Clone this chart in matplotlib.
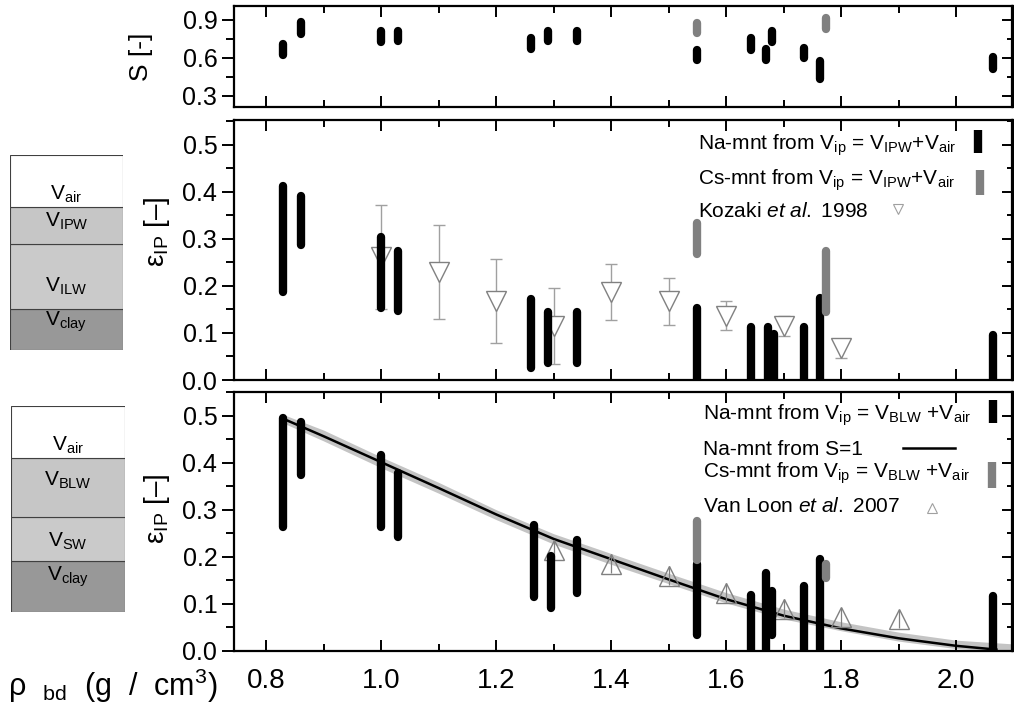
import matplotlib
matplotlib.use('Agg')
import matplotlib.pyplot as plt
from matplotlib.ticker import MultipleLocator

plt.rcParams['font.family'] = ['Liberation Sans', 'DejaVu Sans']
plt.rcParams['mathtext.fontset'] = 'custom'
plt.rcParams['mathtext.rm'] = 'Liberation Sans'
plt.rcParams['mathtext.it'] = 'Liberation Sans:italic'
plt.rcParams['mathtext.bf'] = 'Liberation Sans:bold'

# ---- saturation panel (S) ----
s_na_x = [0.83, 0.86, 1.00, 1.03, 1.26, 1.29, 1.34, 1.55, 1.643, 1.67, 1.68, 1.735, 1.763, 2.064]
s_na_lo = [0.62, 0.79, 0.725, 0.73, 0.67, 0.73, 0.73, 0.585, 0.66, 0.585, 0.725, 0.595, 0.43, 0.51]
s_na_hi = [0.71, 0.88, 0.81, 0.815, 0.76, 0.815, 0.815, 0.665, 0.76, 0.67, 0.81, 0.68, 0.575, 0.605]
s_cs_x = [1.55, 1.774]
s_cs_lo = [0.795, 0.825]
s_cs_hi = [0.875, 0.915]

# ---- interparticle porosity, IPW model ----
m_na_x = [0.83, 0.86, 1.00, 1.03, 1.26, 1.29, 1.34, 1.55, 1.643, 1.673, 1.684, 1.735, 1.763, 2.064]
m_na_lo = [0.188, 0.288, 0.153, 0.146, 0.026, 0.036, 0.036, 0.0, 0.0, 0.0, 0.0, 0.0, 0.0, 0.0]
m_na_hi = [0.412, 0.392, 0.304, 0.274, 0.173, 0.144, 0.144, 0.153, 0.112, 0.112, 0.097, 0.112, 0.175, 0.095]
m_cs_x = [1.55, 1.774]
m_cs_lo = [0.267, 0.145]
m_cs_hi = [0.334, 0.274]

kozaki_x = [1.0, 1.1, 1.2, 1.3, 1.4, 1.5, 1.6, 1.7, 1.8]
kozaki_y = [0.262, 0.23, 0.168, 0.115, 0.187, 0.167, 0.137, 0.115, 0.067]
kozaki_err = [0.11, 0.10, 0.09, 0.08, 0.06, 0.05, 0.03, 0.022, 0.021]

# ---- interparticle porosity, BLW model ----
b_na_x = [0.83, 0.86, 1.00, 1.03, 1.265, 1.295, 1.34, 1.55, 1.643, 1.67, 1.68, 1.735, 1.763, 2.064]
b_na_lo = [0.264, 0.374, 0.264, 0.243, 0.115, 0.091, 0.123, 0.035, 0.0, 0.0, 0.035, 0.0, 0.0, 0.0]
b_na_hi = [0.494, 0.487, 0.416, 0.378, 0.267, 0.202, 0.236, 0.185, 0.118, 0.166, 0.128, 0.137, 0.195, 0.116]
b_cs_x = [1.55, 1.774]
b_cs_lo = [0.194, 0.154]
b_cs_hi = [0.277, 0.185]

vanloon_x = [1.3, 1.4, 1.5, 1.6, 1.7, 1.8, 1.9]
vanloon_y = [0.215, 0.185, 0.16, 0.124, 0.09, 0.072, 0.068]
vanloon_err = [0.02, 0.02, 0.02, 0.02, 0.02, 0.02, 0.02]

s1_x = [0.83, 0.9, 1.0, 1.1, 1.2, 1.3, 1.4, 1.5, 1.6, 1.7, 1.8, 1.9, 2.0, 2.07]
s1_y = [0.493, 0.456, 0.401, 0.346, 0.290, 0.238, 0.195, 0.152, 0.110, 0.075, 0.048, 0.027, 0.011, 0.003]
band_x = [0.83, 0.9, 1.0, 1.1, 1.2, 1.3, 1.4, 1.5, 1.6, 1.7, 1.8, 1.9, 2.0, 2.1]
band_hi = [0.502, 0.469, 0.412, 0.358, 0.300, 0.249, 0.207, 0.165, 0.124, 0.089, 0.062, 0.040, 0.023, 0.015]
band_lo = [0.484, 0.446, 0.389, 0.335, 0.279, 0.227, 0.184, 0.143, 0.102, 0.068, 0.043, 0.021, 0.005, 0.0]

# ---- volume diagrams (relative layer heights, bottom -> top) ----
box1_labels = ['clay', 'ILW', 'IPW', 'air']
box1_vols = [41, 65, 37, 52]
box2_labels = ['clay', 'SW', 'BLW', 'air']
box2_vols = [51, 44, 59, 52]

BAR_LW = 6
GREY = '#808080'

fig = plt.figure(figsize=(10.14, 7.07), dpi=100)
L, W = 234 / 1014, 778.5 / 1014
ax_s = fig.add_axes([L, 1 - 107 / 707, W, 101 / 707])
ax_m = fig.add_axes([L, 1 - 380 / 707, W, 260 / 707])
ax_b = fig.add_axes([L, 1 - 651 / 707, W, 259 / 707])


def style_axis(ax, ymajor, yminor, xlabels):
    for sp in ax.spines.values():
        sp.set_linewidth(1.6)
    ax.set_xlim(0.744, 2.098)
    ax.xaxis.set_major_locator(MultipleLocator(0.2))
    ax.xaxis.set_minor_locator(MultipleLocator(0.1))
    ax.yaxis.set_major_locator(MultipleLocator(ymajor))
    ax.yaxis.set_minor_locator(MultipleLocator(yminor))
    ax.tick_params(axis='x', which='both', direction='in', top=True, bottom=True,
                   width=1.4, labelbottom=xlabels, labelsize=20, pad=12)
    ax.tick_params(axis='x', which='major', length=8)
    ax.tick_params(axis='x', which='minor', length=5)
    ax.tick_params(axis='y', which='both', direction='out', left=True, right=False,
                   width=1.4, labelsize=18, pad=3)
    ax.tick_params(axis='y', which='major', length=9)
    ax.tick_params(axis='y', which='minor', length=6)
    sec = ax.secondary_yaxis('right')
    sec.yaxis.set_major_locator(MultipleLocator(ymajor))
    sec.yaxis.set_minor_locator(MultipleLocator(yminor))
    sec.tick_params(which='both', direction='in', labelright=False, width=1.4)
    sec.tick_params(which='major', length=8)
    sec.tick_params(which='minor', length=4)
    sec.spines['right'].set_linewidth(1.6)


def draw_bars(ax, xs, lo, hi, color):
    for x, a, b in zip(xs, lo, hi):
        ax.plot([x, x], [a, b], color=color, lw=BAR_LW, solid_capstyle='round', zorder=4)


# top panel
draw_bars(ax_s, s_na_x, s_na_lo, s_na_hi, 'black')
draw_bars(ax_s, s_cs_x, s_cs_lo, s_cs_hi, GREY)
ax_s.set_ylim(0.21, 1.01)
style_axis(ax_s, 0.3, 0.15, False)
ax_s.set_ylabel('S [-]', fontsize=19)
ax_s.yaxis.set_label_coords(-0.104, 0.5)

# middle panel
ax_m.errorbar(kozaki_x, kozaki_y, yerr=kozaki_err, fmt='v', ms=14, mfc='white', mec=GREY,
              mew=1.0, ecolor='#a0a0a0', elinewidth=1.0, capsize=4, capthick=1.0, zorder=3)
draw_bars(ax_m, m_na_x, m_na_lo, m_na_hi, 'black')
draw_bars(ax_m, m_cs_x, m_cs_lo, m_cs_hi, GREY)
ax_m.set_ylim(0, 0.553)
style_axis(ax_m, 0.1, 0.05, False)
ax_m.set_ylabel('ε$_{\\mathrm{IP}}$ [–]', fontsize=20)
ax_m.yaxis.set_label_coords(-0.08, 0.57)

# bottom panel
ax_b.fill_between(band_x, band_lo, band_hi, color='#c4c4c4', lw=0, zorder=1)
ax_b.plot(s1_x, s1_y, color='black', lw=1.8, zorder=2)
ax_b.errorbar(vanloon_x, vanloon_y, yerr=vanloon_err, fmt='^', ms=14, mfc='none', mec=GREY,
              mew=1.0, ecolor=GREY, elinewidth=0.9, capsize=0, zorder=3)
draw_bars(ax_b, b_na_x, b_na_lo, b_na_hi, 'black')
draw_bars(ax_b, b_cs_x, b_cs_lo, b_cs_hi, GREY)
ax_b.set_ylim(0, 0.55)
style_axis(ax_b, 0.1, 0.05, True)
ax_b.set_ylabel('ε$_{\\mathrm{IP}}$ [–]', fontsize=20)
ax_b.yaxis.set_label_coords(-0.08, 0.55)

# x-axis title, left of the 0.8 tick label
fig.text(8 / 1014, 0.015, 'ρ  $_{\\mathrm{bd}}$  (g  /  cm$^3$)', fontsize=22,
         ha='left', va='baseline')

# legends (manual layout: text left, key right)
LEG_FS = 15
mid_rows = ['Na-mnt from V$_{\\mathrm{ip}}$ = V$_{\\mathrm{IPW}}$+V$_{\\mathrm{air}}$',
            'Cs-mnt from V$_{\\mathrm{ip}}$ = V$_{\\mathrm{IPW}}$+V$_{\\mathrm{air}}$',
            'Kozaki $\\mathit{et\\ al.}$ 1998']
for txt, yb in zip(mid_rows, [0.885, 0.75, 0.627]):
    ax_m.text(0.596, yb, txt, transform=ax_m.transAxes, fontsize=LEG_FS, va='baseline', ha='left')
ax_m.plot([0.956, 0.956], [0.873, 0.962], transform=ax_m.transAxes, color='black', lw=BAR_LW,
          solid_capstyle='butt')
ax_m.plot([0.958, 0.958], [0.712, 0.808], transform=ax_m.transAxes, color=GREY, lw=BAR_LW,
          solid_capstyle='butt')
ax_m.plot([0.853], [0.658], 'v', transform=ax_m.transAxes, ms=7, mfc='white', mec='#a0a0a0', mew=0.8)

bot_rows = ['Na-mnt from V$_{\\mathrm{ip}}$ = V$_{\\mathrm{BLW}}$ +V$_{\\mathrm{air}}$',
            'Na-mnt from S=1',
            'Cs-mnt from V$_{\\mathrm{ip}}$ = V$_{\\mathrm{BLW}}$ +V$_{\\mathrm{air}}$',
            'Van Loon $\\mathit{et\\ al.}$ 2007']
for txt, yb in zip(bot_rows, [0.892, 0.757, 0.668, 0.537]):
    ax_b.text(0.6025, yb, txt, transform=ax_b.transAxes, fontsize=LEG_FS, va='baseline', ha='left')
ax_b.plot([0.975, 0.975], [0.880, 0.969], transform=ax_b.transAxes, color='black', lw=BAR_LW,
          solid_capstyle='butt')
ax_b.plot([0.859, 0.926], [0.784, 0.784], transform=ax_b.transAxes, color='black', lw=1.8)
ax_b.plot([0.974, 0.974], [0.629, 0.730], transform=ax_b.transAxes, color=GREY, lw=BAR_LW,
          solid_capstyle='butt')
ax_b.plot([0.897], [0.552], '^', transform=ax_b.transAxes, ms=7, mfc='white', mec='#a0a0a0', mew=0.8)

# volume diagrams
layer_colors = {'air': 'white', 'IPW': '#c6c6c6', 'BLW': '#c6c6c6', 'ILW': '#cacaca',
                'SW': '#cacaca', 'clay': '#989898'}
# vertical position of the label inside each layer (fraction of layer height)
label_pos = {'air': 0.25, 'IPW': 0.62, 'BLW': 0.62, 'ILW': 0.35, 'SW': 0.45, 'clay': 0.70}


def draw_box(rect, labels, vols):
    bx = fig.add_axes(rect)
    bottom = 0
    for lab, v in zip(labels, vols):
        bx.bar(0.5, v, width=1.0, bottom=bottom, color=layer_colors[lab],
               edgecolor='#404040', lw=0.8)
        bx.text(0.5, bottom + label_pos[lab] * v, 'V$_{\\mathrm{%s}}$' % lab,
                ha='center', va='center', fontsize=15)
        bottom += v
    bx.set_xlim(0, 1)
    bx.set_ylim(0, bottom)
    bx.axis('off')


draw_box([10 / 1014, 1 - 350 / 707, 113 / 1014, 195 / 707], box1_labels, box1_vols)
draw_box([11 / 1014, 1 - 612 / 707, 114 / 1014, 206 / 707], box2_labels, box2_vols)

fig.savefig('out.png', dpi=100)
